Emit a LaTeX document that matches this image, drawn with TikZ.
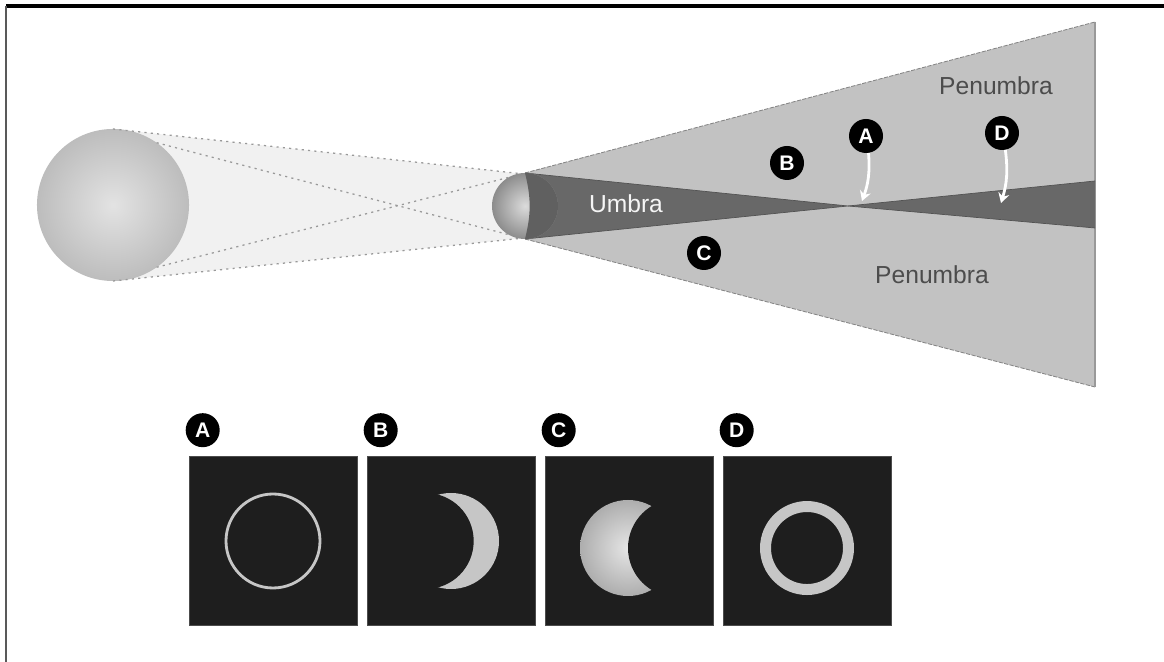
\documentclass[tikz,border=0pt]{standalone}
\usepackage{fontspec}
\setmainfont{Liberation Sans}
\usepackage{tikz}
\usetikzlibrary{arrows.meta, positioning}
\usepackage{xcolor}
\definecolor{lightcone}{HTML}{F1F1F1}
\definecolor{penumbra}{HTML}{C2C2C2}
\definecolor{umbra}{HTML}{686868}
\definecolor{sky}{HTML}{1E1E1E}
\definecolor{glow}{HTML}{C6C6C6}
\tikzset{%
	sun/.style={
		circle, shade,
		minimum size=3.8cm,
		inner sep=0pt, outer sep=0pt,
		inner color=black!11, outer color=black!26
	},
	moon/.style={
		circle, shade,
		minimum size=1.65cm,
		inner sep=0pt, outer sep=0pt,
		inner color=black!14, outer color=black!45
	},
	ghost/.style={shade=false, draw=none},
	ray/.style={black!40, line width=0.9pt, dash pattern=on 1.5pt off 3pt},
	rim/.style={black!48, line width=0.6pt, dash pattern=on 3pt off 1pt},
	zone/.style={font=\fontsize{17.5}{20}\selectfont},
	badge/.style={
		circle, fill=black,
		text=white,
		minimum size=0.85cm,
		inner sep=0pt,
		font=\fontsize{15}{15}\bfseries\selectfont
	},
	pointer/.style={white, line width=2pt, -{Stealth[length=7pt, width=8pt]}},
	panel/.style={
		fill=sky, draw=black!70, line width=0.4pt,
		minimum width=4.2cm, minimum height=4.225cm,
		inner sep=0pt
	},
}

\begin{document}
\begin{tikzpicture}[x=0.025cm, y=0.025cm, >=Stealth]
	\useasboundingbox (0,0) rectangle (1164,662);
	
	% frame
	\draw[black, line width=2.2pt] (6,656) -- (1164,656);
	\draw[black!65, line width=1.4pt] (6,0) -- (6,656);
	
	% sun, moon and the light between them
	\node[sun, ghost] (sun) at (113,457) {};
	\node[moon, ghost] (moon) at (525,456) {};
	\fill[lightcone] (sun.north) -- (moon.100) -- (moon.260) -- (sun.south) -- cycle;
	\node[sun] at (sun) {};
	
	\draw[ray] (sun.north) -- (moon.100);
	\draw[ray] (sun.south) -- (moon.260);
	\draw[ray] (sun.55) -- (moon.240);
	\draw[ray] (sun.-55) -- (moon.120);
	
	% shadow cones
	\coordinate (pen-top) at (1095,640);
	\coordinate (pen-bot) at (1095,275);
	\coordinate (apex) at (848,456);
	\coordinate (ant-top) at (1095,481);
	\coordinate (ant-bot) at (1095,434);
	
	\fill[penumbra] (moon.north) -- (pen-top) -- (pen-bot) -- (moon.south) -- cycle;
	\draw[rim] (moon.north) -- (pen-top);
	\draw[rim] (moon.south) -- (pen-bot);
	\draw[black!40, line width=0.8pt] (pen-top) -- (pen-bot);
	
	\fill[umbra] (moon.north) -- (apex) -- (moon.south) -- cycle;
	\fill[umbra] (apex) -- (ant-top) -- (ant-bot) -- cycle;
	\draw[umbra!80!black, line width=0.5pt] (moon.north) -- (apex) -- (moon.south);
	\draw[umbra!80!black, line width=0.5pt] (ant-top) -- (apex) -- (ant-bot);
	
	\node[moon] at (moon) {};
	\fill[umbra!92!black] (moon.north) arc[start angle=90, end angle=-90, radius=33]
		to[bend right=14] (moon.north) -- cycle;
	
	\node[zone, text=black!4] (umbra-lbl) at (626,458) {Umbra};
	\node[zone, text=black!70] (pen-lbl-1) at (996,576) {Penumbra};
	\node[zone, text=black!70] (pen-lbl-2) at (932,387) {Penumbra};
	
	\foreach \l/\x/\y in {A/866/526, B/787/499, C/704/409, D/1002/529}
	\node[badge] (spot-\l) at (\x,\y) {\l};
	
	\coordinate (hit-A) at (862,461);
	\coordinate (hit-D) at (1001,459);
	\draw[pointer] (spot-A) to[bend left=12] (hit-A);
	\draw[pointer] (spot-D) to[bend left=12] (hit-D);
	
	% views of the sun from each spot
	\foreach \l [count=\i from 0] in {A,B,C,D}
	{
		\node[panel] (panel-\l) at (273+178*\i,121) {};
		\node[badge] (tag-\l) at ([shift={(14,26)}]panel-\l.north west) {\l};
	}
	
	\draw[glow, line width=2pt] (panel-A) circle[radius=47];
	
	\fill[glow] (panel-B) circle[radius=48];
	\fill[sky] ([xshift=-18]panel-B.center) circle[radius=48];
	
	\shade[inner color=black!10, outer color=black!32] ([shift={(-1,-7)}]panel-C.center) circle[radius=48];
	\begin{scope}
		\clip ([shift={(1,1)}]panel-C.south west) rectangle ([shift={(-1,-1)}]panel-C.north east);
		\fill[sky] ([shift={(48,-7)}]panel-C.center) circle[radius=49];
	\end{scope}
	
	\draw[glow, line width=7.8pt] ([yshift=-5]panel-D.center) circle[radius=41.5];
	
\end{tikzpicture}
\end{document}
